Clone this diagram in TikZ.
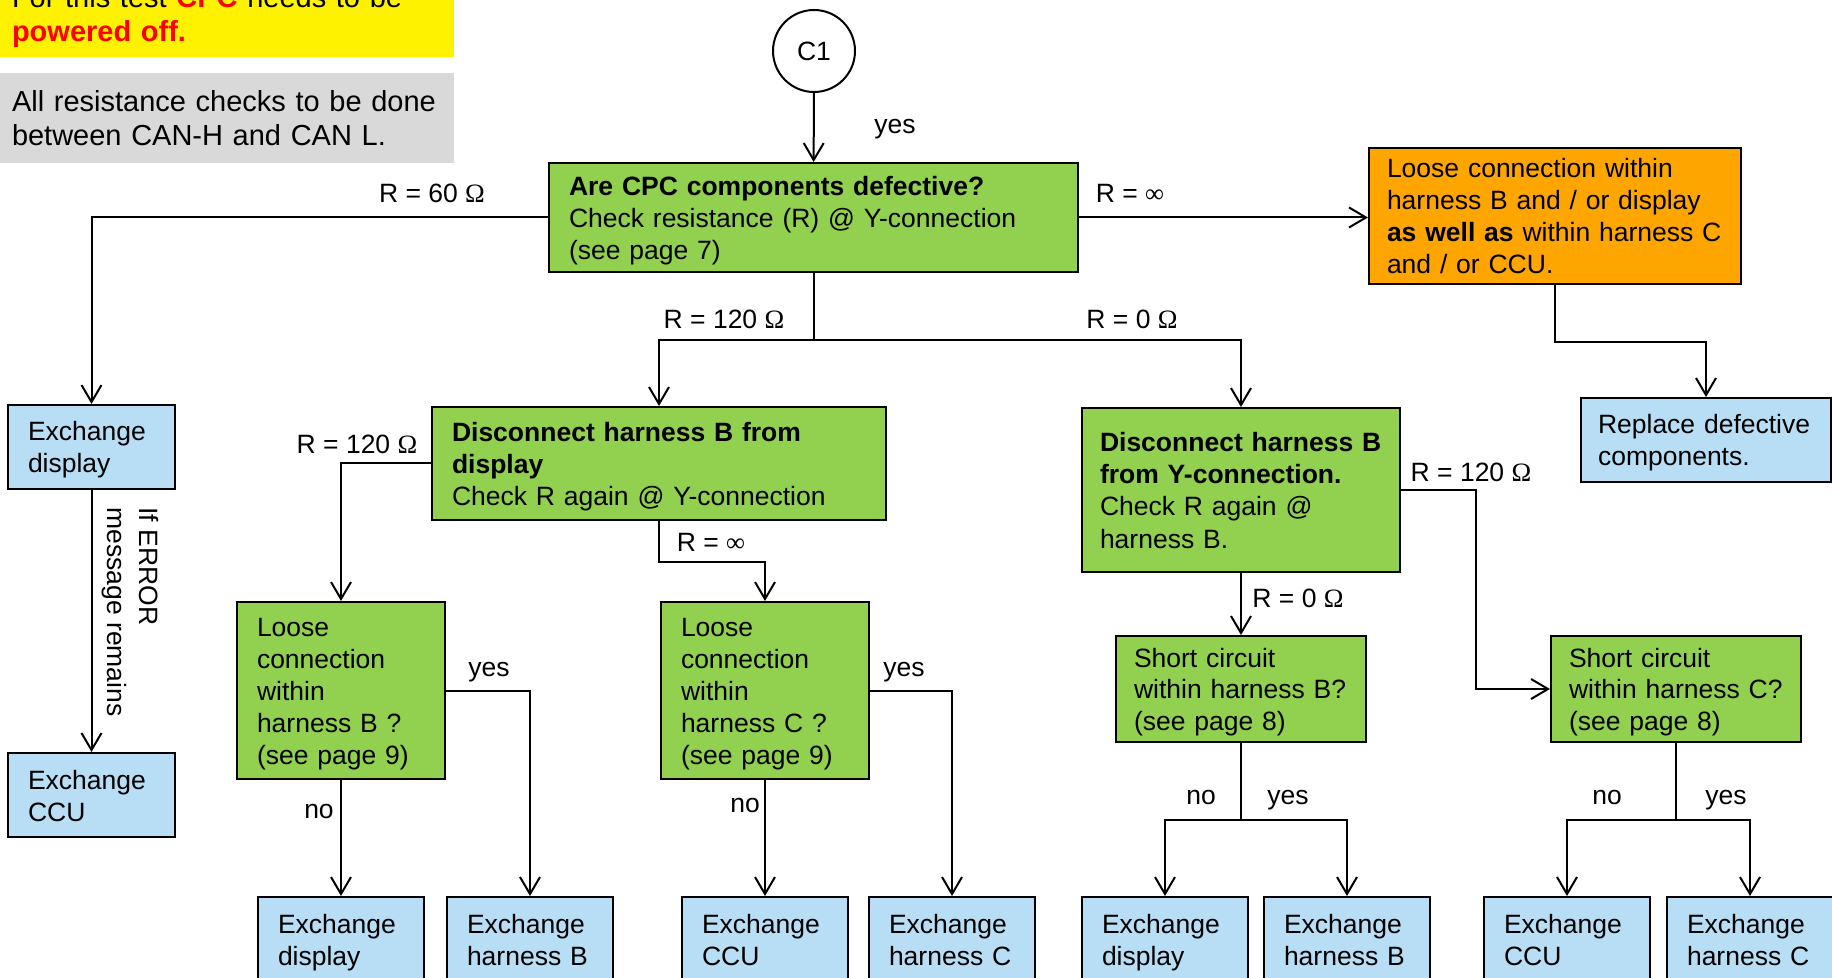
\documentclass[tikz,border=0pt]{standalone}
\usepackage{fontspec}
\setmainfont{Liberation Sans}
\newfontfamily\greekserif{Liberation Serif}
\usetikzlibrary{arrows.meta}

\definecolor{boxgreen}{RGB}{146,208,80}
\definecolor{boxorange}{RGB}{255,165,0}
\definecolor{boxblue}{RGB}{183,222,245}
\definecolor{notegrey}{RGB}{217,217,217}

\newcommand\ohmsym{{\greekserif Ω}}
\newcommand\infsym{{\greekserif ∞}}

\tikzset{
  lbl/.style={font=\fontsize{13.25}{16}\selectfont},
  box/.style={draw, line width=1pt, lbl, inner xsep=10pt, inner ysep=0pt, align=left,
    execute at begin node={\rule{0pt}{13pt}}, execute at end node={\rule[-3pt]{0pt}{3pt}}},
  greenbox/.style={box, fill=boxgreen},
  bluebox/.style={box, fill=boxblue},
  leafbox/.style={bluebox, minimum width=83pt, minimum height=42pt, text width=63pt},
  note/.style={font=\fontsize{14.5}{17}\selectfont, inner xsep=6pt, inner ysep=0pt, align=left, minimum width=227pt, text width=215pt},
  link/.style={line width=1pt},
  flow/.style={link, -{Straight Barb[length=8.5pt,width=10pt]}},
}

\begin{document}
\begin{tikzpicture}[x=0.5pt,y=-0.5pt]
\useasboundingbox (0,0) rectangle (1832,978);

% notes top left
\node[note, fill=yellow, minimum height=40pt] (power) at (227,17) {For this test \textcolor{red}{\textbf{CPC}} needs to be\\\textcolor{red}{\textbf{powered off.}}};
\node[note, fill=notegrey, minimum height=45pt] (canhl) at (227,118) {All resistance checks to be done\\between CAN-H and CAN L.};

\node[draw, circle, line width=1pt, minimum size=41pt, inner sep=0pt, lbl] (c1) at (814,51) {C1};

\node[greenbox, minimum width=264.5pt, minimum height=54.5pt, text width=244.5pt] (q1) at (813.5,217.5) {\textbf{Are CPC components defective?}\\Check resistance (R) @ Y-connection\\(see page 7)};
\node[box, fill=boxorange, inner xsep=9pt, minimum width=186pt, minimum height=68pt, text width=168pt] (loose) at (1555,216) {Loose connection within\\harness B and / or display\\\textbf{as well as} within harness C\\and / or CCU.};
\node[bluebox, inner xsep=8.5pt, minimum width=125pt, minimum height=42pt, text width=108pt] (replace) at (1706,440) {Replace defective\\components.};

\node[bluebox, minimum width=83.5pt, minimum height=42pt, text width=63.5pt] (e1) at (91.5,447) {Exchange\\display};
\node[bluebox, minimum width=83.5pt, minimum height=42pt, text width=63.5pt] (e2) at (91.5,795) {Exchange\\CCU};
\node[lbl, rotate=-90, align=left] (errnote) at (130,612) {If ERROR\\message remains};

\node[greenbox, minimum width=227pt, minimum height=56.5pt, text width=207pt] (q2) at (659,463.5) {\textbf{Disconnect harness B from}\\\textbf{display}\\Check R again @ Y-connection};
\node[greenbox, minimum width=104pt, minimum height=88.5pt, text width=84pt] (l1) at (341,690.5) {Loose\\connection\\within\\harness B ?\\(see page 9)};
\node[greenbox, minimum width=104pt, minimum height=88.5pt, text width=84pt] (l2) at (765,690.5) {Loose\\connection\\within\\harness C ?\\(see page 9)};

\node[greenbox, inner xsep=9pt, minimum width=159pt, minimum height=82pt, text width=141pt] (q3) at (1241,490) {\textbf{Disconnect harness B}\\\textbf{from Y-connection.}\\Check R again @\\harness B.};
\node[greenbox, inner xsep=9pt, minimum width=125pt, minimum height=53pt, text width=107pt] (s1) at (1241,689) {Short circuit\\within harness B?\\(see page 8)};
\node[greenbox, inner xsep=9pt, minimum width=125pt, minimum height=53pt, text width=107pt] (s2) at (1676,689) {Short circuit\\within harness C?\\(see page 8)};

\foreach \n/\x/\t in {b1/341/display, b2/530/harness B, b3/765/CCU, b4/952/harness C,
                      b5/1165/display, b6/1347/harness B, b7/1567/CCU, b8/1750/harness C}
  \node[leafbox] (\n) at (\x,939) {Exchange\\\t};

% connectors
\draw[flow] (c1) -- (q1);
\draw[flow] (q1.west) -| (e1.north);
\draw[flow] (q1.east) -- (q1.east -| loose.west);
\draw[flow] (loose.south) -- ++(0,57) -| (replace.north);
\draw[link] (q1.south) -- ++(0,67) coordinate (split1);
\draw[flow] (split1) -| (q2.north);
\draw[flow] (split1) -| (q3.north);
\draw[flow] (e1) -- (e2);
\draw[flow] (q2.west) -| (l1.north);
\draw[flow] (q2.south) -- ++(0,41) -| (l2.north);
\draw[flow] (l1) -- (b1);
\draw[flow] (l1.east) -| (b2.north);
\draw[flow] (l2) -- (b3);
\draw[flow] (l2.east) -| (b4.north);
\draw[flow] (q3) -- (s1);
\draw[flow] (q3.east) -- ++(75,0) |- (s2.west);
\draw[link] (s1.south) -- ++(0,77) coordinate (split2);
\draw[flow] (split2) -| (b5.north);
\draw[flow] (split2) -| (b6.north);
\draw[link] (s2.south) -- ++(0,77) coordinate (split3);
\draw[flow] (split3) -| (b7.north);
\draw[flow] (split3) -| (b8.north);

% labels
\node[lbl] (yes1) at (895,129) {yes};
\node[lbl] (r60) at (432,193) {R = 60 \ohmsym};
\node[lbl] (rinf1) at (1130,193) {R = \infsym};
\node[lbl] (r120a) at (724,319) {R = 120 \ohmsym};
\node[lbl] (r0a) at (1132,319) {R = 0 \ohmsym};
\node[lbl] (r120b) at (357,444) {R = 120 \ohmsym};
\node[lbl] (rinf2) at (711,542) {R = \infsym};
\node[lbl] (yes2) at (489,672) {yes};
\node[lbl] (yes3) at (904,672) {yes};
\node[lbl] (no1) at (319,811) {no};
\node[lbl] (no2) at (745,805) {no};
\node[lbl] (r120c) at (1471,472) {R = 120 \ohmsym};
\node[lbl] (r0b) at (1298,598) {R = 0 \ohmsym};
\node[lbl] (no3) at (1201,797) {no};
\node[lbl] (yes4) at (1288,800) {yes};
\node[lbl] (no4) at (1607,797) {no};
\node[lbl] (yes5) at (1726,800) {yes};
\end{tikzpicture}
\end{document}
